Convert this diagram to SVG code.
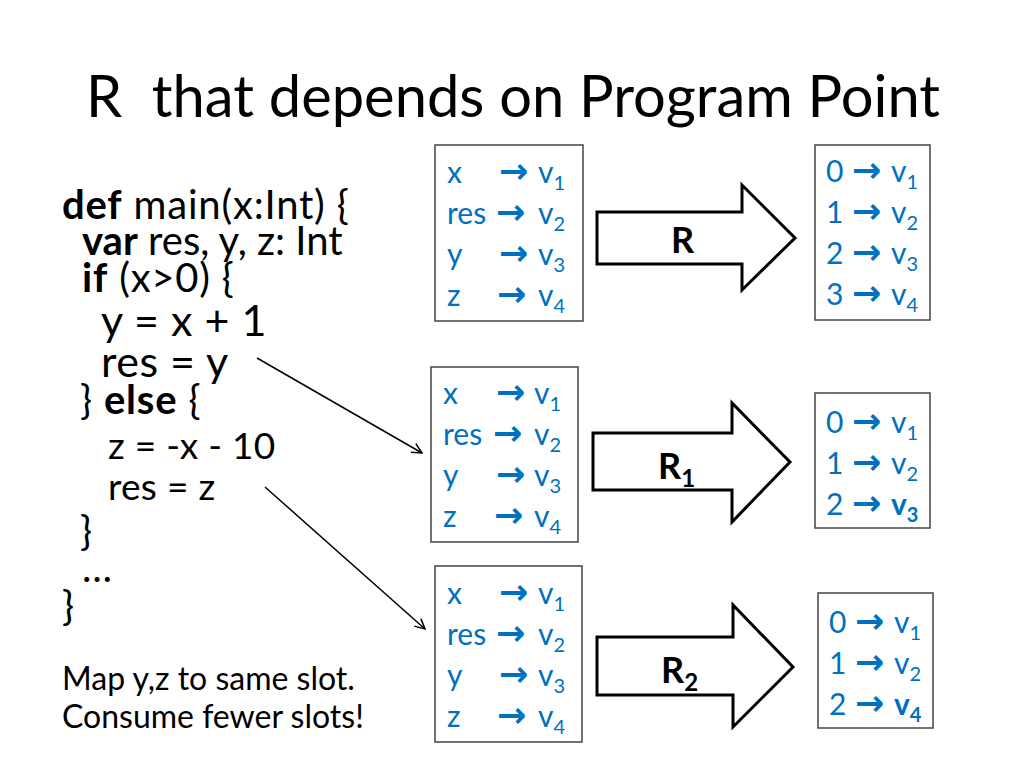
<svg xmlns="http://www.w3.org/2000/svg" width="1024" height="768" viewBox="0 0 1024 768">
<defs>
<style>
.title{font-family:Lato,"Liberation Sans",sans-serif;font-size:58px;fill:#000;white-space:pre}
.code{font-family:Lato,"Liberation Sans",sans-serif;font-size:40px;letter-spacing:0.8px;fill:#000;white-space:pre}
.big1{font-size:43px;letter-spacing:0.5px}
.sm1{font-size:37px;letter-spacing:0.3px}
.note{font-family:Lato,"Liberation Sans",sans-serif;font-size:32px;fill:#000}
.b{font-weight:bold}
.blue{font-family:Lato,"Liberation Sans",sans-serif;font-size:30px;fill:#0070C0}
.arr{font-family:"DejaVu Sans",sans-serif;font-weight:bold;font-size:35px}
.sub{font-size:20px}
.box{fill:#fff;stroke:#444;stroke-width:1.5}
.big{fill:#fff;stroke:#000;stroke-width:3;stroke-linejoin:miter}
.lbl{font-family:Lato,"Liberation Sans",sans-serif;font-size:36px;font-weight:bold;fill:#000}
.lsub{font-size:24px}
.conn{stroke:#000;stroke-width:1.5;fill:none}
</style>
<marker id="open" viewBox="0 0 12 12" refX="11" refY="6" markerWidth="12" markerHeight="12" markerUnits="userSpaceOnUse" orient="auto">
<path d="M1,1 L11,6 L1,11" fill="none" stroke="#000" stroke-width="1.5"/>
</marker>
</defs>
<rect width="1024" height="768" fill="#fff"/>

<g id="title"><text class="title" x="86" y="117" textLength="854" lengthAdjust="spacingAndGlyphs">R  that depends on Program Point</text></g>

<g id="code">
<text class="code" x="62" y="219"><tspan class="b">def</tspan> main(x:Int) {</text>
<text class="code" x="82" y="255" style="letter-spacing:0"><tspan class="b">var</tspan> res, y, z: Int</text>
<text class="code" x="82" y="292"><tspan class="b">if</tspan> (x&gt;0) {</text>
<text class="code big1" x="101" y="336">y = x + 1</text>
<text class="code big1" x="101" y="377">res = y</text>
<text class="code" x="80" y="414">} <tspan class="b">else</tspan> {</text>
<text class="code sm1" x="108" y="459">z = -x - 10</text>
<text class="code sm1" x="108" y="500">res = z</text>
<text class="code" x="80" y="545">}</text>
<text class="code" x="82" y="582">…</text>
<text class="code" x="62" y="620">}</text>
</g>

<g id="note">
<text class="note" x="62" y="690">Map y,z to same slot.</text>
<text class="note" x="62" y="728">Consume fewer slots!</text>
</g>

<g id="map0">
<rect class="box" x="435" y="145" width="148" height="176"/>
<text class="blue" y="183"><tspan x="447">x</tspan><tspan class="arr" x="499">→</tspan><tspan x="538">v</tspan><tspan class="sub" dy="7">1</tspan></text>
<text class="blue" y="224"><tspan x="447">res</tspan><tspan class="arr" x="496">→</tspan><tspan x="538">v</tspan><tspan class="sub" dy="7">2</tspan></text>
<text class="blue" y="265"><tspan x="447">y</tspan><tspan class="arr" x="499">→</tspan><tspan x="538">v</tspan><tspan class="sub" dy="7">3</tspan></text>
<text class="blue" y="306"><tspan x="447">z</tspan><tspan class="arr" x="497">→</tspan><tspan x="538">v</tspan><tspan class="sub" dy="7">4</tspan></text>
</g>

<g id="arrowR">
<polygon class="big" points="597,212 742,212 742,185 795,238 742,290 742,264 597,264"/>
<text class="lbl" x="671" y="253">R</text>
</g>

<g id="slots0">
<rect class="box" x="815" y="145" width="115" height="175"/>
<text class="blue" y="182"><tspan x="826">0</tspan><tspan class="arr" x="852">→</tspan><tspan x="891">v</tspan><tspan class="sub" dy="7">1</tspan></text>
<text class="blue" y="223"><tspan x="826">1</tspan><tspan class="arr" x="852">→</tspan><tspan x="891">v</tspan><tspan class="sub" dy="7">2</tspan></text>
<text class="blue" y="264"><tspan x="826">2</tspan><tspan class="arr" x="852">→</tspan><tspan x="891">v</tspan><tspan class="sub" dy="7">3</tspan></text>
<text class="blue" y="305"><tspan x="826">3</tspan><tspan class="arr" x="852">→</tspan><tspan x="891">v</tspan><tspan class="sub" dy="7">4</tspan></text>
</g>

<g id="map1">
<rect class="box" x="431" y="367" width="147" height="175"/>
<text class="blue" y="404"><tspan x="443">x</tspan><tspan class="arr" x="496">→</tspan><tspan x="534">v</tspan><tspan class="sub" dy="7">1</tspan></text>
<text class="blue" y="445"><tspan x="443">res</tspan><tspan class="arr" x="493">→</tspan><tspan x="534">v</tspan><tspan class="sub" dy="7">2</tspan></text>
<text class="blue" y="486"><tspan x="443">y</tspan><tspan class="arr" x="496">→</tspan><tspan x="534">v</tspan><tspan class="sub" dy="7">3</tspan></text>
<text class="blue" y="527"><tspan x="443">z</tspan><tspan class="arr" x="494">→</tspan><tspan x="534">v</tspan><tspan class="sub" dy="7">4</tspan></text>
</g>

<g id="arrowR1">
<polygon class="big" points="593,433 732,433 732,403 790,462 732,522 732,490 593,490"/>
<text class="lbl" x="658" y="479">R<tspan class="lsub" dy="8">1</tspan></text>
</g>

<g id="slots1">
<rect class="box" x="815" y="393" width="115" height="135"/>
<text class="blue" y="433"><tspan x="826">0</tspan><tspan class="arr" x="852">→</tspan><tspan x="891">v</tspan><tspan class="sub" dy="7">1</tspan></text>
<text class="blue" y="474"><tspan x="826">1</tspan><tspan class="arr" x="852">→</tspan><tspan x="891">v</tspan><tspan class="sub" dy="7">2</tspan></text>
<text class="blue" y="515"><tspan x="826">2</tspan><tspan class="arr" x="852">→</tspan><tspan x="891" class="b">v</tspan><tspan class="sub b" dy="7">3</tspan></text>
</g>

<g id="map2">
<rect class="box" x="435" y="566" width="147" height="176"/>
<text class="blue" y="604"><tspan x="447">x</tspan><tspan class="arr" x="499">→</tspan><tspan x="538">v</tspan><tspan class="sub" dy="7">1</tspan></text>
<text class="blue" y="645"><tspan x="447">res</tspan><tspan class="arr" x="496">→</tspan><tspan x="538">v</tspan><tspan class="sub" dy="7">2</tspan></text>
<text class="blue" y="686"><tspan x="447">y</tspan><tspan class="arr" x="499">→</tspan><tspan x="538">v</tspan><tspan class="sub" dy="7">3</tspan></text>
<text class="blue" y="727"><tspan x="447">z</tspan><tspan class="arr" x="497">→</tspan><tspan x="538">v</tspan><tspan class="sub" dy="7">4</tspan></text>
</g>

<g id="arrowR2">
<polygon class="big" points="597,637 733,637 733,605 793,667 733,727 733,695 597,695"/>
<text class="lbl" x="661" y="683">R<tspan class="lsub" dy="8">2</tspan></text>
</g>

<g id="slots2">
<rect class="box" x="818" y="593" width="115" height="135"/>
<text class="blue" y="633"><tspan x="829">0</tspan><tspan class="arr" x="855">→</tspan><tspan x="894">v</tspan><tspan class="sub" dy="7">1</tspan></text>
<text class="blue" y="674"><tspan x="829">1</tspan><tspan class="arr" x="855">→</tspan><tspan x="894">v</tspan><tspan class="sub" dy="7">2</tspan></text>
<text class="blue" y="715"><tspan x="829">2</tspan><tspan class="arr" x="855">→</tspan><tspan x="894" class="b">v</tspan><tspan class="sub b" dy="7">4</tspan></text>
</g>

<g id="connectors">
<line class="conn" x1="257" y1="358" x2="422" y2="453" marker-end="url(#open)"/>
<line class="conn" x1="265" y1="487" x2="425" y2="629" marker-end="url(#open)"/>
</g>
</svg>
